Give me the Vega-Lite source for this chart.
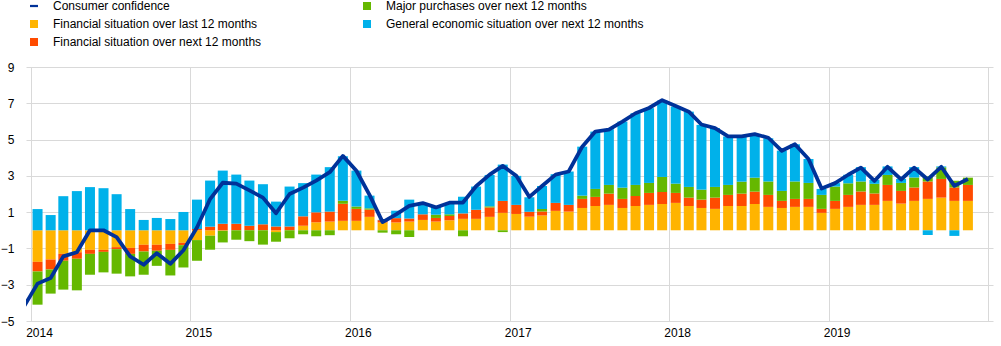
{
  "$schema": "https://vega.github.io/schema/vega-lite/v6.json",
  "width": 967,
  "height": 254,
  "autosize": "none",
  "padding": {"left": 26, "top": 67, "right": 8, "bottom": 25},
  "background": "white",
  "config": {
    "view": {"stroke": null},
    "font": "Liberation Sans",
    "axis": {"labelFont": "Liberation Sans", "labelFontSize": 12, "labelColor": "#000000", "gridColor": "#d9d9d9", "gridWidth": 1, "domain": false, "ticks": false, "title": null},
    "legend": {"labelFont": "Liberation Sans", "labelFontSize": 12, "labelColor": "#000000"}
  },
  "datasets": {
    "m": [
      {"d": "2013-12-16", "cc": -4.2},
      {"d": "2014-01-16", "cc": -2.94, "a_finlast": -1.74, "b_finnext": -0.53, "c_major": -1.83, "d_general": 1.17},
      {"d": "2014-02-15", "cc": -2.63, "a_finlast": -1.61, "b_finnext": -0.55, "c_major": -1.33, "d_general": 0.84},
      {"d": "2014-03-16", "cc": -1.44, "a_finlast": -1.30, "b_finnext": -0.38, "c_major": -1.59, "d_general": 1.88},
      {"d": "2014-04-16", "cc": -1.21, "a_finlast": -1.21, "b_finnext": -0.36, "c_major": -1.74, "d_general": 2.16},
      {"d": "2014-05-16", "cc": 0.0, "a_finlast": -1.08, "b_finnext": -0.22, "c_major": -1.15, "d_general": 2.38},
      {"d": "2014-06-16", "cc": 0.0, "a_finlast": -1.08, "b_finnext": -0.11, "c_major": -1.13, "d_general": 2.32},
      {"d": "2014-07-16", "cc": -0.38, "a_finlast": -0.93, "b_finnext": -0.11, "c_major": -1.35, "d_general": 1.99},
      {"d": "2014-08-16", "cc": -1.44, "a_finlast": -0.97, "b_finnext": -0.33, "c_major": -1.24, "d_general": 1.17},
      {"d": "2014-09-16", "cc": -1.90, "a_finlast": -0.80, "b_finnext": -0.37, "c_major": -1.28, "d_general": 0.57},
      {"d": "2014-10-16", "cc": -1.26, "a_finlast": -0.80, "b_finnext": -0.33, "c_major": -0.83, "d_general": 0.68},
      {"d": "2014-11-16", "cc": -1.85, "a_finlast": -0.75, "b_finnext": -0.33, "c_major": -1.41, "d_general": 0.62},
      {"d": "2014-12-16", "cc": -1.10, "a_finlast": -0.69, "b_finnext": -0.13, "c_major": -1.23, "d_general": 1.01},
      {"d": "2015-01-16", "cc": 0.15, "a_finlast": -0.54, "b_finnext": 0.07, "c_major": -1.14, "d_general": 1.62},
      {"d": "2015-02-15", "cc": 1.72, "a_finlast": -0.30, "b_finnext": 0.20, "c_major": -0.77, "d_general": 2.54},
      {"d": "2015-03-16", "cc": 2.62, "a_finlast": -0.03, "b_finnext": 0.36, "c_major": -0.64, "d_general": 2.93},
      {"d": "2015-04-16", "cc": 2.57, "a_finlast": 0.0, "b_finnext": 0.36, "c_major": -0.52, "d_general": 2.71},
      {"d": "2015-05-16", "cc": 2.20, "a_finlast": 0.0, "b_finnext": 0.25, "c_major": -0.60, "d_general": 2.49},
      {"d": "2015-06-16", "cc": 1.80, "a_finlast": 0.0, "b_finnext": 0.33, "c_major": -0.79, "d_general": 2.21},
      {"d": "2015-07-16", "cc": 0.94, "a_finlast": -0.10, "b_finnext": 0.21, "c_major": -0.53, "d_general": 1.37},
      {"d": "2015-08-16", "cc": 2.00, "a_finlast": 0.0, "b_finnext": 0.21, "c_major": -0.44, "d_general": 2.20},
      {"d": "2015-09-16", "cc": 2.35, "a_finlast": 0.25, "b_finnext": 0.52, "c_major": -0.22, "d_general": 1.83},
      {"d": "2015-10-16", "cc": 2.74, "a_finlast": 0.44, "b_finnext": 0.55, "c_major": -0.33, "d_general": 2.08},
      {"d": "2015-11-16", "cc": 3.20, "a_finlast": 0.48, "b_finnext": 0.55, "c_major": -0.27, "d_general": 2.45},
      {"d": "2015-12-16", "cc": 4.10, "a_finlast": 0.52, "b_finnext": 0.94, "c_major": 0.17, "d_general": 2.45},
      {"d": "2016-01-16", "cc": 3.28, "a_finlast": 0.52, "b_finnext": 0.66, "c_major": 0.13, "d_general": 1.98},
      {"d": "2016-02-15", "cc": 1.95, "a_finlast": 0.74, "b_finnext": 0.40, "c_major": 0.07, "d_general": 0.70},
      {"d": "2016-03-16", "cc": 0.45, "a_finlast": 0.43, "b_finnext": 0.13, "c_major": -0.13, "d_general": 0.02},
      {"d": "2016-04-16", "cc": 0.88, "a_finlast": 0.43, "b_finnext": 0.24, "c_major": -0.22, "d_general": 0.41},
      {"d": "2016-05-16", "cc": 1.34, "a_finlast": 0.48, "b_finnext": 0.17, "c_major": -0.37, "d_general": 1.04},
      {"d": "2016-06-16", "cc": 1.50, "a_finlast": 0.57, "b_finnext": 0.31, "c_major": 0.0, "d_general": 0.62},
      {"d": "2016-07-16", "cc": 1.26, "a_finlast": 0.48, "b_finnext": 0.20, "c_major": 0.18, "d_general": 0.44},
      {"d": "2016-08-16", "cc": 1.52, "a_finlast": 0.55, "b_finnext": 0.24, "c_major": 0.09, "d_general": 0.62},
      {"d": "2016-09-16", "cc": 1.53, "a_finlast": 0.63, "b_finnext": 0.30, "c_major": -0.33, "d_general": 0.92},
      {"d": "2016-10-16", "cc": 2.43, "a_finlast": 0.63, "b_finnext": 0.50, "c_major": 0.0, "d_general": 1.28},
      {"d": "2016-11-16", "cc": 3.07, "a_finlast": 0.74, "b_finnext": 0.52, "c_major": 0.06, "d_general": 1.73},
      {"d": "2016-12-16", "cc": 3.55, "a_finlast": 0.96, "b_finnext": 0.66, "c_major": -0.10, "d_general": 2.00},
      {"d": "2017-01-16", "cc": 3.00, "a_finlast": 0.90, "b_finnext": 0.50, "c_major": 0.0, "d_general": 1.60},
      {"d": "2017-02-15", "cc": 1.84, "a_finlast": 0.75, "b_finnext": 0.27, "c_major": 0.0, "d_general": 0.80},
      {"d": "2017-03-16", "cc": 2.44, "a_finlast": 0.81, "b_finnext": 0.22, "c_major": 0.15, "d_general": 1.26},
      {"d": "2017-04-16", "cc": 3.07, "a_finlast": 1.07, "b_finnext": 0.44, "c_major": 0.0, "d_general": 1.58},
      {"d": "2017-05-16", "cc": 3.24, "a_finlast": 1.03, "b_finnext": 0.37, "c_major": 0.0, "d_general": 1.84},
      {"d": "2017-06-16", "cc": 4.61, "a_finlast": 1.23, "b_finnext": 0.50, "c_major": 0.18, "d_general": 2.70},
      {"d": "2017-07-16", "cc": 5.44, "a_finlast": 1.34, "b_finnext": 0.50, "c_major": 0.44, "d_general": 3.16},
      {"d": "2017-08-16", "cc": 5.55, "a_finlast": 1.40, "b_finnext": 0.62, "c_major": 0.48, "d_general": 3.07},
      {"d": "2017-09-16", "cc": 5.99, "a_finlast": 1.23, "b_finnext": 0.50, "c_major": 0.62, "d_general": 3.64},
      {"d": "2017-10-16", "cc": 6.45, "a_finlast": 1.34, "b_finnext": 0.55, "c_major": 0.61, "d_general": 3.95},
      {"d": "2017-11-16", "cc": 6.74, "a_finlast": 1.40, "b_finnext": 0.66, "c_major": 0.55, "d_general": 4.12},
      {"d": "2017-12-16", "cc": 7.17, "a_finlast": 1.45, "b_finnext": 0.66, "c_major": 0.83, "d_general": 4.21},
      {"d": "2018-01-16", "cc": 6.85, "a_finlast": 1.51, "b_finnext": 0.55, "c_major": 0.51, "d_general": 4.25},
      {"d": "2018-02-15", "cc": 6.54, "a_finlast": 1.34, "b_finnext": 0.46, "c_major": 0.59, "d_general": 4.15},
      {"d": "2018-03-16", "cc": 5.83, "a_finlast": 1.23, "b_finnext": 0.46, "c_major": 0.55, "d_general": 3.57},
      {"d": "2018-04-16", "cc": 5.63, "a_finlast": 1.18, "b_finnext": 0.62, "c_major": 0.59, "d_general": 3.24},
      {"d": "2018-05-16", "cc": 5.18, "a_finlast": 1.34, "b_finnext": 0.61, "c_major": 0.55, "d_general": 2.67},
      {"d": "2018-06-16", "cc": 5.18, "a_finlast": 1.34, "b_finnext": 0.68, "c_major": 0.66, "d_general": 2.49},
      {"d": "2018-07-16", "cc": 5.30, "a_finlast": 1.45, "b_finnext": 0.68, "c_major": 0.77, "d_general": 2.36},
      {"d": "2018-08-16", "cc": 5.10, "a_finlast": 1.29, "b_finnext": 0.66, "c_major": 0.74, "d_general": 2.38},
      {"d": "2018-09-16", "cc": 4.38, "a_finlast": 1.23, "b_finnext": 0.39, "c_major": 0.55, "d_general": 2.22},
      {"d": "2018-10-16", "cc": 4.74, "a_finlast": 1.29, "b_finnext": 0.44, "c_major": 0.96, "d_general": 2.05},
      {"d": "2018-11-16", "cc": 3.93, "a_finlast": 1.29, "b_finnext": 0.44, "c_major": 0.88, "d_general": 1.32},
      {"d": "2018-12-16", "cc": 2.30, "a_finlast": 0.96, "b_finnext": 0.22, "c_major": 0.77, "d_general": 0.33},
      {"d": "2019-01-16", "cc": 2.60, "a_finlast": 1.18, "b_finnext": 0.44, "c_major": 0.79, "d_general": 0.19},
      {"d": "2019-02-15", "cc": 3.06, "a_finlast": 1.29, "b_finnext": 0.66, "c_major": 0.64, "d_general": 0.47},
      {"d": "2019-03-16", "cc": 3.45, "a_finlast": 1.40, "b_finnext": 0.74, "c_major": 0.55, "d_general": 0.79},
      {"d": "2019-04-16", "cc": 2.72, "a_finlast": 1.40, "b_finnext": 0.63, "c_major": 0.53, "d_general": 0.22},
      {"d": "2019-05-16", "cc": 3.50, "a_finlast": 1.62, "b_finnext": 0.88, "c_major": 0.55, "d_general": 0.47},
      {"d": "2019-06-16", "cc": 2.80, "a_finlast": 1.47, "b_finnext": 0.70, "c_major": 0.44, "d_general": 0.22},
      {"d": "2019-07-16", "cc": 3.45, "a_finlast": 1.62, "b_finnext": 0.74, "c_major": 0.55, "d_general": 0.57},
      {"d": "2019-08-16", "cc": 2.80, "a_finlast": 1.73, "b_finnext": 0.96, "c_major": 0.28, "d_general": -0.26},
      {"d": "2019-09-16", "cc": 3.50, "a_finlast": 1.80, "b_finnext": 1.03, "c_major": 0.64, "d_general": 0.05},
      {"d": "2019-10-16", "cc": 2.45, "a_finlast": 1.62, "b_finnext": 0.74, "c_major": 0.37, "d_general": -0.31},
      {"d": "2019-11-16", "cc": 2.83, "a_finlast": 1.62, "b_finnext": 0.88, "c_major": 0.40, "d_general": 0.0}
    ]
  },
  "data": {"name": "m"},
  "encoding": {
    "x": {
      "field": "d",
      "type": "temporal",
      "scale": {"type": "utc", "domain": [{"year": 2014, "month": 1, "date": 1, "utc": true}, {"year": 2020, "month": 1, "date": 1, "utc": true}]},
      "axis": {
        "values": [
          {"year": 2014, "month": 1, "date": 1, "utc": true},
          {"year": 2015, "month": 1, "date": 1, "utc": true},
          {"year": 2016, "month": 1, "date": 1, "utc": true},
          {"year": 2017, "month": 1, "date": 1, "utc": true},
          {"year": 2018, "month": 1, "date": 1, "utc": true},
          {"year": 2019, "month": 1, "date": 1, "utc": true},
          {"year": 2020, "month": 1, "date": 1, "utc": true}
        ],
        "grid": true,
        "labelExpr": "utcFormat(datum.value, '%Y') == '2020' ? '' : utcFormat(datum.value, '%Y')",
        "labelFlush": false,
        "labelOverlap": false,
        "labelPadding": 6,
        "labelOffset": 8
      }
    }
  },
  "layer": [
    {
      "transform": [
        {"fold": ["a_finlast", "b_finnext", "c_major", "d_general"], "as": ["key", "value"]},
        {"filter": "isValid(datum.value)"}
      ],
      "mark": {"type": "bar", "size": 10, "clip": true},
      "encoding": {
        "y": {
          "field": "value",
          "type": "quantitative",
          "stack": "zero",
          "scale": {"domain": [-5, 9], "nice": false, "zero": false},
          "axis": {"values": [-5, -3, -1, 1, 3, 5, 7, 9], "grid": true, "labelPadding": 12, "labelOverlap": false, "labelFlush": false}
        },
        "order": {"field": "key", "type": "ordinal", "sort": "ascending"},
        "color": {
          "field": "key",
          "type": "nominal",
          "scale": {
            "domain": ["cc", "c_major", "a_finlast", "d_general", "b_finnext"],
            "range": ["#003299", "#65B800", "#FFB400", "#00B1EA", "#FF4B00"]
          },
          "legend": {
            "title": null,
            "orient": "none",
            "legendX": 2,
            "legendY": -67,
            "padding": 0,
            "columns": 2,
            "direction": "horizontal",
            "columnPadding": 99,
            "rowPadding": 6,
            "symbolType": "square",
            "symbolSize": 64,
            "symbolStrokeWidth": 0,
            "labelOffset": 13,
            "labelLimit": 400,
            "labelExpr": "datum.value == 'cc' ? 'Consumer confidence' : datum.value == 'a_finlast' ? 'Financial situation over last 12 months' : datum.value == 'b_finnext' ? 'Financial situation over next 12 months' : datum.value == 'c_major' ? 'Major purchases over next 12 months' : 'General economic situation over next 12 months'",
            "encode": {
              "symbols": {
                "update": {
                  "shape": [
                    {"test": "datum.value == 'cc'", "value": "M-1,-0.28H1V0.28H-1Z"},
                    {"value": "square"}
                  ]
                }
              }
            }
          }
        }
      }
    },
    {
      "mark": {"type": "rule", "color": "#666666", "strokeWidth": 1},
      "encoding": {
        "y": {
          "datum": 0,
          "type": "quantitative",
          "scale": {"domain": [-5, 9], "nice": false, "zero": false},
          "axis": {"values": [-5, -3, -1, 1, 3, 5, 7, 9], "grid": true, "labelPadding": 12, "labelOverlap": false, "labelFlush": false}
        }
      }
    },
    {
      "mark": {"type": "line", "color": "#003299", "strokeWidth": 3.8, "clip": true, "strokeJoin": "round"},
      "encoding": {
        "y": {
          "field": "cc",
          "type": "quantitative",
          "scale": {"domain": [-5, 9], "nice": false, "zero": false},
          "axis": {"values": [-5, -3, -1, 1, 3, 5, 7, 9], "grid": true, "labelPadding": 12, "labelOverlap": false, "labelFlush": false}
        }
      }
    }
  ]
}
